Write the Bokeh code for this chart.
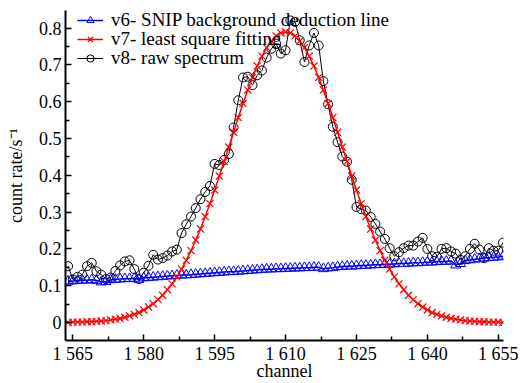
from bokeh.plotting import figure
from bokeh.models import FixedTicker, Range1d, Legend, LegendItem
from bokeh.embed import file_html
from bokeh.resources import INLINE

# ---------------- data ----------------
channel_start = 1564
channel_end = 1656
channels = list(range(channel_start, channel_end + 1))

snip_background = [
    0.112, 0.113, 0.114, 0.115, 0.115, 0.116, 0.114, 0.110, 0.111, 0.116,
    0.117, 0.118, 0.119, 0.119, 0.120, 0.117, 0.121, 0.122, 0.123, 0.124,
    0.125, 0.126, 0.127, 0.128, 0.129, 0.129, 0.130, 0.131, 0.132, 0.133,
    0.134, 0.135, 0.136, 0.137, 0.138, 0.138, 0.139, 0.140, 0.141, 0.142,
    0.143, 0.144, 0.145, 0.145, 0.146, 0.146, 0.147, 0.147, 0.148, 0.148,
    0.149, 0.149, 0.150, 0.150, 0.146, 0.148, 0.149, 0.151, 0.152, 0.153,
    0.153, 0.154, 0.155, 0.155, 0.156, 0.157, 0.157, 0.158, 0.158, 0.159,
    0.160, 0.160, 0.161, 0.162, 0.162, 0.163, 0.164, 0.164, 0.165, 0.166,
    0.166, 0.167, 0.156, 0.160, 0.168, 0.170, 0.172, 0.173, 0.175, 0.176,
    0.177, 0.178, 0.180,
]

least_square_fit = [
    0.000, 0.001, 0.001, 0.001, 0.002, 0.002, 0.003, 0.004, 0.005, 0.007,
    0.009, 0.011, 0.014, 0.018, 0.022, 0.027, 0.034, 0.042, 0.051, 0.062,
    0.074, 0.089, 0.105, 0.124, 0.145, 0.169, 0.195, 0.224, 0.254, 0.288,
    0.323, 0.360, 0.398, 0.438, 0.477, 0.517, 0.557, 0.595, 0.632, 0.666,
    0.697, 0.724, 0.747, 0.765, 0.779, 0.787, 0.790, 0.787, 0.779, 0.765,
    0.747, 0.724, 0.697, 0.666, 0.632, 0.595, 0.557, 0.517, 0.477, 0.438,
    0.398, 0.360, 0.323, 0.288, 0.254, 0.224, 0.195, 0.169, 0.145, 0.124,
    0.105, 0.089, 0.074, 0.062, 0.051, 0.042, 0.034, 0.027, 0.022, 0.018,
    0.014, 0.011, 0.009, 0.007, 0.005, 0.004, 0.003, 0.002, 0.002, 0.001,
    0.001, 0.001, 0.000,
]

raw_spectrum = [
    0.153, 0.117, 0.124, 0.130, 0.153, 0.162, 0.139, 0.130, 0.118, 0.122,
    0.140, 0.155, 0.166, 0.169, 0.145, 0.118, 0.135, 0.154, 0.184, 0.171,
    0.175, 0.182, 0.193, 0.198, 0.243, 0.267, 0.288, 0.311, 0.335, 0.355,
    0.371, 0.431, 0.428, 0.442, 0.458, 0.530, 0.604, 0.666, 0.668, 0.645,
    0.672, 0.685, 0.720, 0.744, 0.758, 0.731, 0.740, 0.821, 0.817, 0.767,
    0.708, 0.753, 0.787, 0.753, 0.656, 0.593, 0.532, 0.490, 0.451, 0.437,
    0.388, 0.314, 0.308, 0.304, 0.287, 0.268, 0.247, 0.227, 0.202, 0.180,
    0.191, 0.202, 0.209, 0.209, 0.220, 0.230, 0.200, 0.180, 0.178, 0.200,
    0.202, 0.193, 0.187, 0.170, 0.180, 0.200, 0.214, 0.198, 0.175, 0.202,
    0.195, 0.195, 0.217,
]

x_ticks = [1565, 1580, 1595, 1610, 1625, 1640, 1655]
x_tick_labels = ["1 565", "1 580", "1 595", "1 610", "1 625", "1 640", "1 655"]
x_minor_ticks = [1572.5, 1587.5, 1602.5, 1617.5, 1632.5, 1647.5]
y_ticks = [0, 0.1, 0.2, 0.3, 0.4, 0.5, 0.6, 0.7, 0.8]
y_tick_labels = ["0", "0.1", "0.2", "0.3", "0.4", "0.5", "0.6", "0.7", "0.8"]
y_minor_ticks = [0.05, 0.15, 0.25, 0.35, 0.45, 0.55, 0.65, 0.75]

series_names = ["v6- SNIP background deduction line",
                "v7- least square fitting",
                "v8- raw spectrum"]

FONT = "Liberation Serif"

# ---------------- figure ----------------
p = figure(width=521, height=383, output_backend="svg", toolbar_location=None,
           x_range=Range1d(1563.45, 1656.1), y_range=Range1d(-0.049, 0.848),
           min_border_left=65, min_border_right=18, min_border_top=10,
           min_border_bottom=42, background_fill_color="white",
           border_fill_color="white")
p.outline_line_color = None
p.grid.visible = False

# raw spectrum (black circles)
r_raw_l = p.line(channels, raw_spectrum, line_color="black", line_width=1)
r_raw_m = p.scatter(channels, raw_spectrum, marker="circle", size=9,
                    fill_color=None, line_color="black", line_width=1)
# SNIP background (blue triangles)
r_bg_l = p.line(channels, snip_background, line_color="blue", line_width=1.5)
r_bg_m = p.scatter(channels, snip_background, marker="triangle", size=10,
                   fill_color=None, line_color="blue", line_width=1)
# least square fit (red x)
r_fit_l = p.line(channels, least_square_fit, line_color="red", line_width=1.5)
r_fit_m = p.scatter(channels, least_square_fit, marker="x", size=10,
                    line_color="red", line_width=1.2)

# axes
xa = p.xaxis[0]
xa.ticker = FixedTicker(ticks=x_ticks, minor_ticks=x_minor_ticks)
xa.major_label_overrides = {t: l for t, l in zip(x_ticks, x_tick_labels)}
ya = p.yaxis[0]
ya.ticker = FixedTicker(ticks=y_ticks, minor_ticks=y_minor_ticks)
ya.major_label_overrides = {t: l for t, l in zip(y_ticks, y_tick_labels)}

for ax in (xa, ya):
    ax.axis_line_width = 2
    ax.axis_line_color = "black"
    ax.major_tick_in = 6
    ax.major_tick_out = 0
    ax.minor_tick_in = 4
    ax.minor_tick_out = 0
    ax.major_tick_line_width = 1.5
    ax.minor_tick_line_width = 1.5
    ax.major_label_text_font = FONT
    ax.major_label_text_font_size = "18px"
    ax.major_label_text_color = "black"
    ax.axis_label_text_font = FONT
    ax.axis_label_text_font_size = "18px"
    ax.axis_label_text_font_style = "normal"
    ax.axis_label_text_color = "black"

xa.axis_label = "channel"
xa.major_label_standoff = 3
xa.axis_label_standoff = -6
ya.axis_label = "count rate/s\u207b\u00b9"
ya.major_label_standoff = 4
ya.axis_label_standoff = 10

# one legend per row so the rows can sit as close as in the reference
legend_rows = [(series_names[0], [r_bg_l, r_bg_m], 309),
               (series_names[1], [r_fit_l, r_fit_m], 290),
               (series_names[2], [r_raw_l, r_raw_m], 271)]
for name, rends, ypos in legend_rows:
    lg = Legend(items=[LegendItem(label=name, renderers=rends)],
                location=(12, ypos))
    lg.border_line_color = None
    lg.background_fill_alpha = 0
    lg.padding = 0
    lg.margin = 0
    lg.glyph_width = 26
    lg.glyph_height = 18
    lg.label_height = 18
    lg.label_standoff = 8
    lg.label_text_font = FONT
    lg.label_text_font_size = "19px"
    lg.label_text_color = "black"
    p.add_layout(lg, "center")

open("out.html", "w").write(file_html(p, INLINE))
